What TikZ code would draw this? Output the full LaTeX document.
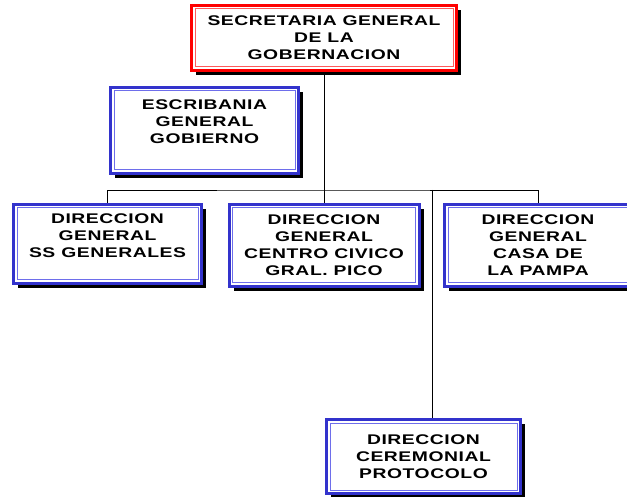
\documentclass[tikz,border=0pt]{standalone}
\usepackage{fontspec}
\newfontfamily\orgfont{Liberation Sans}[FakeStretch=1.38,LetterSpace=4]
\usetikzlibrary{shadows}
\definecolor{boxblue}{RGB}{51,51,204}
\definecolor{lineblue}{RGB}{110,110,235}
\definecolor{boxred}{RGB}{255,0,0}
\definecolor{linered}{RGB}{255,90,90}
\tikzset{
orgbox/.style={
  rectangle,
  draw=#1,
  line width=3pt,
  fill=white,
  align=center,
  inner sep=0pt,
  font=\orgfont\bfseries\fontsize{14}{17}\selectfont,
  drop shadow={shadow xshift=4.5pt,shadow yshift=-4.5pt,fill=black,opacity=1}
  },
innerline/.style={draw=#1,line width=1pt},
conn/.style={draw=black,line width=0.8pt}
}

\begin{document}
\begin{tikzpicture}[x=1pt,y=-1pt]
\clip (0,0) rectangle (627,497);

\node[orgbox=boxred,minimum width=265pt,minimum height=65pt]
  (secgral) at (324,38) {SECRETARIA GENERAL\\DE LA\\GOBERNACION};
\node[orgbox=boxblue,minimum width=188pt,minimum height=86pt]
  (escrib) at (204.5,130.5) {ESCRIBANIA\\GENERAL\\GOBIERNO\\\mbox{}};
\node[orgbox=boxblue,minimum width=188pt,minimum height=79pt]
  (ssgen) at (107.5,244) {DIRECCION\\GENERAL\\SS GENERALES\\\mbox{}};
\node[orgbox=boxblue,minimum width=190pt,minimum height=82pt]
  (civico) at (324,245.5) {DIRECCION\\GENERAL\\CENTRO CIVICO\\GRAL. PICO};
\node[orgbox=boxblue,minimum width=187pt,minimum height=82pt]
  (pampa) at (538,245.5) {DIRECCION\\GENERAL\\CASA DE\\LA PAMPA};
\node[orgbox=boxblue,minimum width=194pt,minimum height=74pt]
  (cerem) at (423.5,456.5) {DIRECCION\\CEREMONIAL\\PROTOCOLO};

\foreach \n/\c in {secgral/linered,escrib/lineblue,ssgen/lineblue,%
                   civico/lineblue,pampa/lineblue,cerem/lineblue}
  \draw[innerline=\c] ([shift={(5pt,5pt)}]\n.south west)
    rectangle ([shift={(-5pt,-5pt)}]\n.north east);

\coordinate (bus) at (324,190);
\coordinate (cerembus) at (432,190);

\draw[conn] (secgral.south) -- (civico.north);
\draw[conn] (ssgen.north) |- (bus) -| (pampa.north);
\draw[conn] (cerembus) -- (cerembus |- cerem.north);

\end{tikzpicture}
\end{document}
